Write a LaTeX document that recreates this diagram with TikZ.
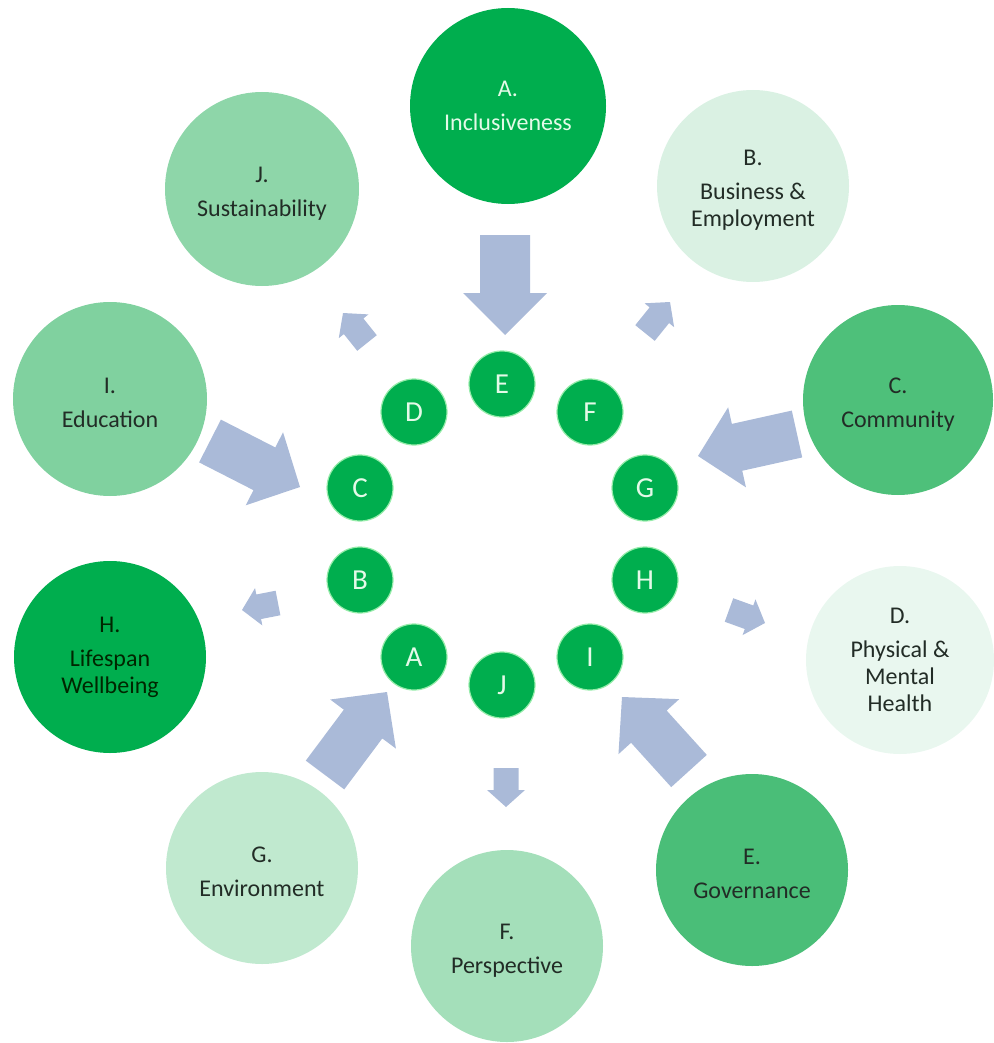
\documentclass[tikz,border=0pt]{standalone}
\usepackage{fontspec}
\setmainfont{Carlito}
\usetikzlibrary{calc}
\definecolor{dkg}{RGB}{0,174,78}
\definecolor{cC}{RGB}{78,192,122}
\definecolor{cE}{RGB}{74,190,120}
\definecolor{cI}{RGB}{128,209,159}
\definecolor{cJ}{RGB}{142,214,169}
\definecolor{cF}{RGB}{164,223,186}
\definecolor{cG}{RGB}{192,233,207}
\definecolor{cB}{RGB}{218,241,227}
\definecolor{cD}{RGB}{233,247,239}
\definecolor{arrowc}{RGB}{170,186,216}
\definecolor{txt}{RGB}{34,44,38}
\definecolor{lighttxt}{RGB}{228,250,232}
\definecolor{smallline}{RGB}{150,236,170}
\newcommand{\blockarr}[6]{%
  \coordinate (#1-t) at (#2);
  \coordinate (#1-p) at (#3);
  \coordinate (#1-h) at ($(#1-p)!#6!(#1-t)$);
  \fill[arrowc] ($(#1-t)!#4!90:(#1-p)$) -- ($(#1-h)!#4!-90:(#1-t)$) -- ($(#1-h)!#5!-90:(#1-t)$) -- (#1-p) -- ($(#1-h)!#5!90:(#1-t)$) -- ($(#1-h)!#4!90:(#1-t)$) -- ($(#1-t)!#4!-90:(#1-p)$) -- cycle;
}
\newcommand{\tstrut}{\rule{0pt}{24pt}}
\tikzset{
  big/.style={circle, minimum size=#1, inner sep=0pt, align=center,
    font=\fontsize{24}{27}\selectfont, text=txt},
  small/.style={circle, fill=dkg, draw=smallline, line width=1.2pt,
    minimum size=66pt, inner sep=0pt, font=\fontsize{29}{30}\selectfont, text=lighttxt},
}
\begin{document}
\begin{tikzpicture}[x=1pt,y=-1pt]
\useasboundingbox (0,0) rectangle (993,1043);
% big circles
\node[big=196pt, fill=dkg, text=lighttxt] (bA) at (508,106) {A.\\[7pt]Inclusiveness};
\node[big=192pt, fill=cB] (bB) at (753,186) {\tstrut B.\\[7pt]Business \&\\Employment};
\node[big=190pt, fill=cC] (bC) at (898,400) {\tstrut C.\\[7pt]Community};
\node[big=188pt, fill=cD] (bD) at (900,660) {D.\\[7pt]Physical \&\\Mental\\Health};
\node[big=192pt, fill=cE] (bE) at (752,870) {\tstrut E.\\[7pt]Governance};
\node[big=192pt, fill=cF] (bF) at (507,946) {\tstrut F.\\[7pt]Perspective};
\node[big=192pt, fill=cG] (bG) at (262,868) {\tstrut G.\\[7pt]Environment};
\node[big=192pt, fill=dkg, text=black!85!green] (bH) at (110,657) {H.\\[7pt]Lifespan\\Wellbeing};
\node[big=194pt, fill=cI] (bI) at (110,399) {\tstrut I.\\[7pt]Education};
\node[big=194pt, fill=cJ] (bJ) at (262,189) {\tstrut J.\\[7pt]Sustainability};
% small circles
\node[small] (sE) at (502,384) {E};
\node[small] (sD) at (414,412) {D};
\node[small] (sF) at (590,412) {F};
\node[small] (sC) at (360,488) {C};
\node[small] (sG) at (645,488) {G};
\node[small] (sB) at (360,580) {B};
\node[small] (sH) at (645,580) {H};
\node[small] (sA) at (414,657) {A};
\node[small] (sI) at (590,657) {I};
\node[small] (sJ) at (502,685) {J};
% big block arrows
\blockarr{a1}{505,235}{505,335}{25pt}{42pt}{42pt}
\blockarr{a2}{210,441}{300,487}{24pt}{41pt}{40pt}
\blockarr{a3}{797,434}{698,456}{24pt}{41pt}{40pt}
\blockarr{a4}{325,775}{387,692}{24pt}{41pt}{40pt}
\blockarr{a5}{689,771}{622,697}{24pt}{41pt}{40pt}
% small block arrows
\blockarr{b1}{367,343}{343,313}{12.5pt}{19pt}{17pt}
\blockarr{b2}{645,333}{670,302}{12.5pt}{19pt}{17pt}
\blockarr{b3}{278,603}{242,610}{12.5pt}{19pt}{17pt}
\blockarr{b4}{729,610}{765,623}{12.5pt}{19pt}{17pt}
\blockarr{b5}{506,768}{506,807}{12.5pt}{19pt}{17pt}
\end{tikzpicture}
\end{document}
